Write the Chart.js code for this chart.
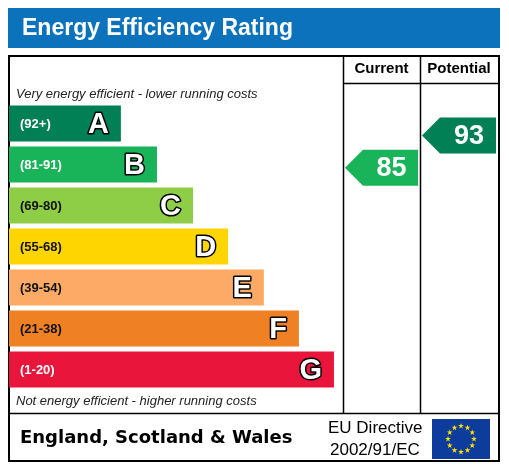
<!DOCTYPE html>
<html><head><meta charset="utf-8">
<script src="https://cdn.jsdelivr.net/npm/chart.js@4"></script>
<style>html,body{margin:0;padding:0;background:#fff}canvas{display:block}</style>
</head><body>
<div style="width:509px;height:467px"><canvas id="c" width="509" height="467"></canvas></div>
<script>
const bands = ['A','B','C','D','E','F','G'];
const ranges = ['(92+)','(81-91)','(69-80)','(55-68)','(39-54)','(21-38)','(1-20)'];
const bandMin = [92,81,69,55,39,21,1];
const bandMax = [100,91,80,68,54,38,20];
const barLengths = [33.5,44.3,55.1,65.6,76.3,86.8,97.3];
const colors = ['#008054','#19b459','#8dce46','#ffd500','#fcaa65','#ef8023','#e9153b'];
const labelDark = [false,false,true,true,true,true,false];
const currentRating = 85;
const potentialRating = 93;

function bandOf(r){for(let i=0;i<bandMin.length;i++){if(r>=bandMin[i])return i;}return 6;}

const deco = {
  id:'deco',
  beforeDraw(chart){
    const c=chart.ctx; c.save();
    c.fillStyle='#fff';c.fillRect(0,0,509,467);
    c.fillStyle='#0b72bb';c.fillRect(8,8,492,40);
    c.fillStyle='#fff';c.font='bold 23px Arial, "Liberation Sans"';c.textBaseline='middle';
    c.fillText('Energy Efficiency Rating',22,29);
    c.strokeStyle='#000';c.lineWidth=2;c.strokeRect(9,56,490,405);
    c.lineWidth=1.5;
    c.beginPath();
    c.moveTo(343.5,56);c.lineTo(343.5,413);
    c.moveTo(420.5,56);c.lineTo(420.5,413);
    c.moveTo(343,83.5);c.lineTo(499,83.5);
    c.moveTo(9,413.5);c.lineTo(499,413.5);
    c.stroke();
    c.fillStyle='#000';c.font='bold 15px Arial, "Liberation Sans"';c.textAlign='center';
    c.fillText('Current',381.5,69);c.fillText('Potential',459,69);
    c.textAlign='left';c.font='italic 13px Arial, "Liberation Sans"';
    c.fillStyle='#222';
    c.fillText('Very energy efficient - lower running costs',16,94);
    c.fillText('Not energy efficient - higher running costs',16,401);
    c.fillStyle='#000';c.font='bold 18px "DejaVu Sans", Verdana';
    c.fillText('England, Scotland & Wales',20,438);
    c.font='17px Arial, "Liberation Sans"';
    c.fillText('EU Directive',328,428);c.fillText('2002/91/EC',330,450);
    c.fillStyle='#0e3c9c';c.fillRect(432,419,58,40);
    c.fillStyle='#ffe000';
    for(let k=0;k<12;k++){const a=k*Math.PI/6;const x=461+13*Math.cos(a),y=439+13*Math.sin(a);
      c.beginPath();for(let j=0;j<10;j++){const rr=j%2?1.2:3;const b=-Math.PI/2+j*Math.PI/5;c.lineTo(x+rr*Math.cos(b),y+rr*Math.sin(b));}c.fill();}
    c.restore();
  },
  afterDatasetsDraw(chart){
    const c=chart.ctx;c.save();
    const meta=chart.getDatasetMeta(0);
    meta.data.forEach((el,i)=>{
      c.textBaseline='middle';c.textAlign='left';
      c.font='bold 13px Arial, "Liberation Sans"';
      c.fillStyle=labelDark[i]?'#111':'#fff';
      c.fillText(ranges[i],20,el.y+1);
      c.font='bold 29px Arial, "Liberation Sans"';c.textAlign='right';
      c.lineWidth=3;c.strokeStyle='#000';c.lineJoin='round';
      c.strokeText(bands[i],el.x-12,el.y+1);c.fillStyle='#fff';c.fillText(bands[i],el.x-12,el.y+1);
    });
    function arrow(r,x0,x1){
      const i=bandOf(r);const el=meta.data[i];const h=el.height;
      const top=el.y-h/2;
      const y=top+(bandMax[i]+0.5-r)/(bandMax[i]-bandMin[i]+1)*h;
      const hh=18;
      c.fillStyle=colors[i];c.beginPath();
      c.moveTo(x0,y);c.lineTo(x0+hh,y-hh);c.lineTo(x1,y-hh);c.lineTo(x1,y+hh);c.lineTo(x0+hh,y+hh);c.closePath();c.fill();
      c.fillStyle='#fff';c.font='bold 27px Arial, "Liberation Sans"';c.textAlign='center';c.textBaseline='middle';
      c.fillText(String(r),(x0+hh+x1)/2+1,y+1);
    }
    arrow(currentRating,345,418);
    arrow(potentialRating,422,496);
    c.restore();
  }
};

new Chart(document.getElementById('c'),{
  type:'bar',
  data:{labels:bands,datasets:[{data:barLengths,backgroundColor:colors,barPercentage:0.88,categoryPercentage:1,borderWidth:0}]},
  options:{
    indexAxis:'y',responsive:false,animation:false,devicePixelRatio:1,
    layout:{padding:{left:9,right:166,top:103,bottom:77}},
    plugins:{legend:{display:false},tooltip:{enabled:false}},
    scales:{x:{display:false,min:0,max:100},y:{display:false}}
  },
  plugins:[deco]
});
</script>
</body></html>
